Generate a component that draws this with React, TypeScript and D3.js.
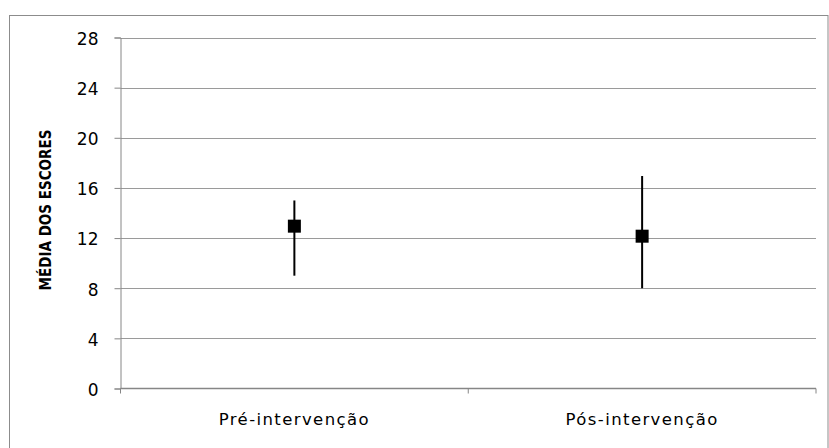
import { useEffect, useRef } from 'react'
import * as d3 from 'd3'

const categories = ['Pré-intervenção', 'Pós-intervenção']
const means = [12.95, 12.15]
const lows = [9, 8]
const highs = [15, 16.95]
const yTicks = [0, 4, 8, 12, 16, 20, 24, 28]

const W = 829
const H = 448

export default function App() {
  const ref = useRef<SVGSVGElement>(null)

  useEffect(() => {
    if (!ref.current) return
    const svg = d3.select(ref.current)
    svg.selectAll('*').remove()

    const left = 120.5
    const right = 816
    const top = 37.5
    const bottom = 388.5

    // outer chart frame
    svg.append('rect')
      .attr('x', 9.5).attr('y', 15.5)
      .attr('width', 828 - 9.5).attr('height', 460)
      .attr('fill', 'white').attr('stroke', '#8c8c8c').attr('stroke-width', 1)

    const y = d3.scaleLinear().domain([0, 28]).range([bottom, top])
    const x = d3.scaleBand<string>().domain(categories).range([left, right])

    // gridlines
    svg.append('g').selectAll('line')
      .data(yTicks.filter(t => t > 0))
      .enter().append('line')
      .attr('x1', left).attr('x2', right)
      .attr('y1', d => Math.round(y(d)) + 0.5).attr('y2', d => Math.round(y(d)) + 0.5)
      .attr('stroke', '#9a9a9a').attr('stroke-width', 1)

    // y axis
    const yAxis = svg.append('g')
      .attr('transform', `translate(${left},0)`)
      .call(d3.axisLeft(y).tickValues(yTicks).tickSize(6).tickPadding(16).tickFormat(d3.format('d')))
    yAxis.select('.domain').attr('stroke', '#868686')
    yAxis.selectAll('line').attr('stroke', '#868686')
    yAxis.selectAll('text')
      .attr('font-family', 'DejaVu Sans, Verdana, sans-serif')
      .attr('font-size', 17).attr('fill', '#000')
      .attr('dy', '0.4em')

    // x axis
    svg.append('line')
      .attr('x1', left).attr('x2', right)
      .attr('y1', bottom).attr('y2', bottom)
      .attr('stroke', '#868686').attr('stroke-width', 1.5)
    const bounds = [left, ...categories.map(c => (x(c) ?? 0) + x.bandwidth())]
    svg.append('g').selectAll('line')
      .data(bounds)
      .enter().append('line')
      .attr('x1', d => d).attr('x2', d => d)
      .attr('y1', bottom).attr('y2', bottom + 5)
      .attr('stroke', '#868686')

    svg.append('g').selectAll('text')
      .data(categories)
      .enter().append('text')
      .attr('x', d => (x(d) ?? 0) + x.bandwidth() / 2)
      .attr('y', 425)
      .attr('text-anchor', 'middle')
      .attr('font-family', 'DejaVu Sans, Verdana, sans-serif')
      .attr('font-size', 16.5).attr('letter-spacing', 1.4).attr('fill', '#000')
      .text(d => d)

    // error bars
    const cx = (i: number) => (x(categories[i]) ?? 0) + x.bandwidth() / 2
    svg.append('g').selectAll('line')
      .data(categories.map((_, i) => i))
      .enter().append('line')
      .attr('x1', i => cx(i)).attr('x2', i => cx(i))
      .attr('y1', i => y(highs[i])).attr('y2', i => y(lows[i]))
      .attr('stroke', '#000').attr('stroke-width', 2)

    // markers
    const s = 13
    svg.append('g').selectAll('rect')
      .data(categories.map((_, i) => i))
      .enter().append('rect')
      .attr('x', i => cx(i) - s / 2).attr('y', i => y(means[i]) - s / 2)
      .attr('width', s).attr('height', s)
      .attr('fill', '#000')

    // y label
    svg.append('text')
      .attr('transform', `translate(51,210) rotate(-90)`)
      .attr('text-anchor', 'middle')
      .attr('font-family', 'DejaVu Sans Condensed, DejaVu Sans, sans-serif')
      .attr('font-stretch', 'condensed')
      .attr('font-weight', 'bold')
      .attr('font-size', 15).attr('fill', '#000')
      .text('MÉDIA DOS ESCORES')
  }, [])

  return (
    <svg ref={ref} width={W} height={H}
      style={{ display: 'block', position: 'absolute', left: 0, top: 0, background: 'white' }} />
  )
}
